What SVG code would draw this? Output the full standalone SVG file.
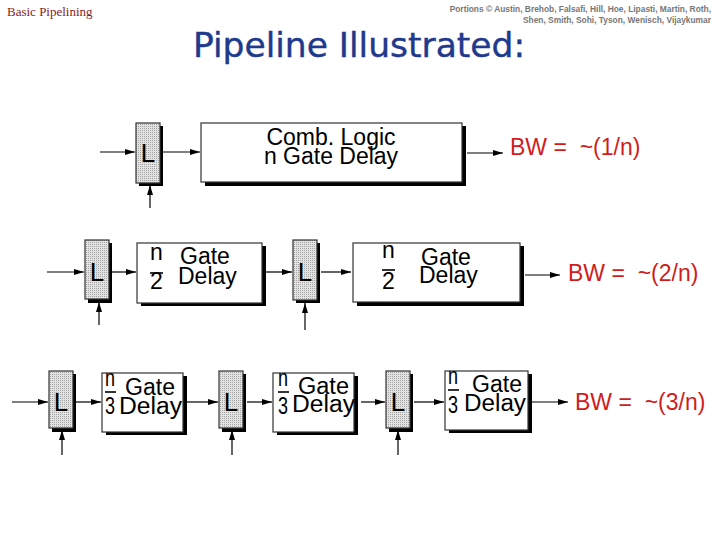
<svg xmlns="http://www.w3.org/2000/svg" width="720" height="540" viewBox="0 0 720 540">
<defs>
<pattern id="stip" width="2" height="2" patternUnits="userSpaceOnUse">
<rect width="2" height="2" fill="#e2e2e2"/>
<rect width="1" height="1" fill="#a4a4a4"/>
</pattern>
<marker id="ah" viewBox="0 0 10 6" refX="10" refY="3" markerWidth="10" markerHeight="6" markerUnits="userSpaceOnUse" orient="auto">
<path d="M0,0 L10,3 L0,6 z" fill="#000"/>
</marker>
</defs>
<style>
.sh{fill:#000}
.latch{fill:url(#stip);stroke:#333;stroke-width:1.2}
.box{fill:#fff;stroke:#333;stroke-width:1.2}
.t{font-family:"Liberation Sans",Arial,sans-serif;font-size:23px;fill:#000}
.f{font-family:"Liberation Sans",Arial,sans-serif;font-size:23px;fill:#000}
.L{font-family:"Liberation Sans",Arial,sans-serif;font-size:26px;fill:#000;text-anchor:middle}
.bw{font-family:"Liberation Sans",Arial,sans-serif;font-size:23px;fill:#d01c1c}
.c line{stroke:#000;stroke-width:1.2;marker-end:url(#ah)}
.bar{stroke:#000;stroke-width:1.6}
.cr{font-family:"Liberation Sans",Arial,sans-serif;font-size:8.4px;font-weight:bold;fill:#777;text-anchor:end}
</style>
<rect width="720" height="540" fill="#fff"/>
<text x="7" y="16" font-family="Liberation Serif,serif" font-size="13" fill="#8b1a1a">Basic Pipelining</text>
<text class="cr" x="711" y="12">Portions © Austin, Brehob, Falsafi, Hill, Hoe, Lipasti, Martin, Roth,</text>
<text class="cr" x="711" y="23">Shen, Smith, Sohi, Tyson, Wenisch, Vijaykumar</text>
<text x="193" y="57" textLength="332" lengthAdjust="spacingAndGlyphs" font-family="DejaVu Sans,sans-serif" font-size="33" fill="#1f3a8c" stroke="#1f3a8c" stroke-width="0.4">Pipeline Illustrated:</text>

<g class="c" id="connectors">
<line x1="100" y1="152" x2="135" y2="152"/>
<line x1="163" y1="152" x2="200" y2="152"/>
<line x1="150" y1="208" x2="150" y2="185"/>
<line x1="467" y1="153" x2="503" y2="153"/>

<line x1="47" y1="272" x2="84" y2="272"/>
<line x1="112" y1="272" x2="136" y2="272"/>
<line x1="99" y1="325" x2="99" y2="302"/>
<line x1="266" y1="272" x2="292" y2="272"/>
<line x1="321" y1="272" x2="351" y2="272"/>
<line x1="305" y1="330" x2="305" y2="303"/>
<line x1="525" y1="275" x2="560" y2="275"/>

<line x1="12" y1="402" x2="48" y2="402"/>
<line x1="76" y1="402" x2="101" y2="402"/>
<line x1="62" y1="455" x2="62" y2="430"/>
<line x1="187" y1="402" x2="218" y2="402"/>
<line x1="247" y1="402" x2="272" y2="402"/>
<line x1="232" y1="455" x2="232" y2="430"/>
<line x1="361" y1="402" x2="385" y2="402"/>
<line x1="414" y1="402" x2="444" y2="402"/>
<line x1="398" y1="455" x2="398" y2="430"/>
<line x1="532" y1="402" x2="568" y2="402"/>
</g>

<g id="r1-latch"><rect class="sh" x="139" y="126" width="24" height="60"/><rect class="latch" x="136" y="123" width="24" height="60"/><text class="L" x="148" y="162">L</text></g>
<g id="r1-logic"><rect class="sh" x="205" y="126" width="261" height="60"/><rect class="box" x="201" y="123" width="261" height="59"/>
<text class="t" x="331" y="145" text-anchor="middle">Comb. Logic</text><text class="t" x="331" y="164" text-anchor="middle">n Gate Delay</text></g>
<text class="bw" x="510" y="155" xml:space="preserve">BW =&#160; ~(1/n)</text>

<g id="r2-latch1"><rect class="sh" x="88" y="243" width="24" height="60"/><rect class="latch" x="85" y="240" width="24" height="59"/><text class="L" x="97" y="281">L</text></g>
<g id="r2-stage1"><rect class="sh" x="141" y="246" width="125" height="60"/><rect class="box" x="137" y="243" width="125" height="60"/>
<text class="t" x="150" y="260">n</text><line class="bar" x1="150" y1="273" x2="163" y2="273"/><text class="t" x="150" y="289">2</text>
<text class="t" x="180" y="264">Gate</text><text class="t" x="178" y="284">Delay</text></g>
<g id="r2-latch2"><rect class="sh" x="296" y="243" width="24" height="60"/><rect class="latch" x="293" y="240" width="24" height="60"/><text class="L" x="305" y="281">L</text></g>
<g id="r2-stage2"><rect class="sh" x="357" y="246" width="167" height="60"/><rect class="box" x="353" y="243" width="167" height="59"/>
<text class="t" x="382" y="258">n</text><line class="bar" x1="382" y1="270" x2="395" y2="270"/><text class="t" x="382" y="289">2</text>
<text class="t" x="421" y="265">Gate</text><text class="t" x="419" y="283">Delay</text></g>
<text class="bw" x="568" y="281" xml:space="preserve">BW =&#160; ~(2/n)</text>

<g id="r3-latch1"><rect class="sh" x="52" y="374" width="24" height="58"/><rect class="latch" x="49" y="371" width="24" height="57"/><text class="L" x="61" y="411">L</text></g>
<g id="r3-stage1"><rect class="sh" x="106" y="376" width="81" height="59"/><rect class="box" x="102" y="373" width="81" height="59"/>
<text class="f" x="105" y="386" textLength="10" lengthAdjust="spacingAndGlyphs">n</text><line class="bar" x1="105" y1="392" x2="116" y2="392"/><text class="f" x="105" y="414" textLength="10" lengthAdjust="spacingAndGlyphs">3</text>
<text class="t" x="125" y="395" textLength="50" lengthAdjust="spacingAndGlyphs">Gate</text><text class="t" x="119" y="414" textLength="63" lengthAdjust="spacingAndGlyphs">Delay</text></g>
<g id="r3-latch2"><rect class="sh" x="222" y="374" width="24" height="58"/><rect class="latch" x="219" y="371" width="24" height="57"/><text class="L" x="231" y="411">L</text></g>
<g id="r3-stage2"><rect class="sh" x="277" y="376" width="81" height="59"/><rect class="box" x="273" y="373" width="81" height="59"/>
<text class="f" x="278" y="386" textLength="10" lengthAdjust="spacingAndGlyphs">n</text><line class="bar" x1="278" y1="392" x2="289" y2="392"/><text class="f" x="278" y="414" textLength="10" lengthAdjust="spacingAndGlyphs">3</text>
<text class="t" x="298" y="394" textLength="51" lengthAdjust="spacingAndGlyphs">Gate</text><text class="t" x="292" y="412" textLength="63" lengthAdjust="spacingAndGlyphs">Delay</text></g>
<g id="r3-latch3"><rect class="sh" x="389" y="374" width="24" height="58"/><rect class="latch" x="386" y="371" width="24" height="57"/><text class="L" x="398" y="411">L</text></g>
<g id="r3-stage3"><rect class="sh" x="449" y="374" width="83" height="59"/><rect class="box" x="445" y="371" width="83" height="59"/>
<text class="f" x="448" y="384" textLength="10" lengthAdjust="spacingAndGlyphs">n</text><line class="bar" x1="448" y1="390" x2="459" y2="390"/><text class="f" x="448" y="413" textLength="10" lengthAdjust="spacingAndGlyphs">3</text>
<text class="t" x="472" y="392" textLength="50" lengthAdjust="spacingAndGlyphs">Gate</text><text class="t" x="464" y="411" textLength="62" lengthAdjust="spacingAndGlyphs">Delay</text></g>
<text class="bw" x="575" y="410" xml:space="preserve">BW =&#160; ~(3/n)</text>
</svg>
